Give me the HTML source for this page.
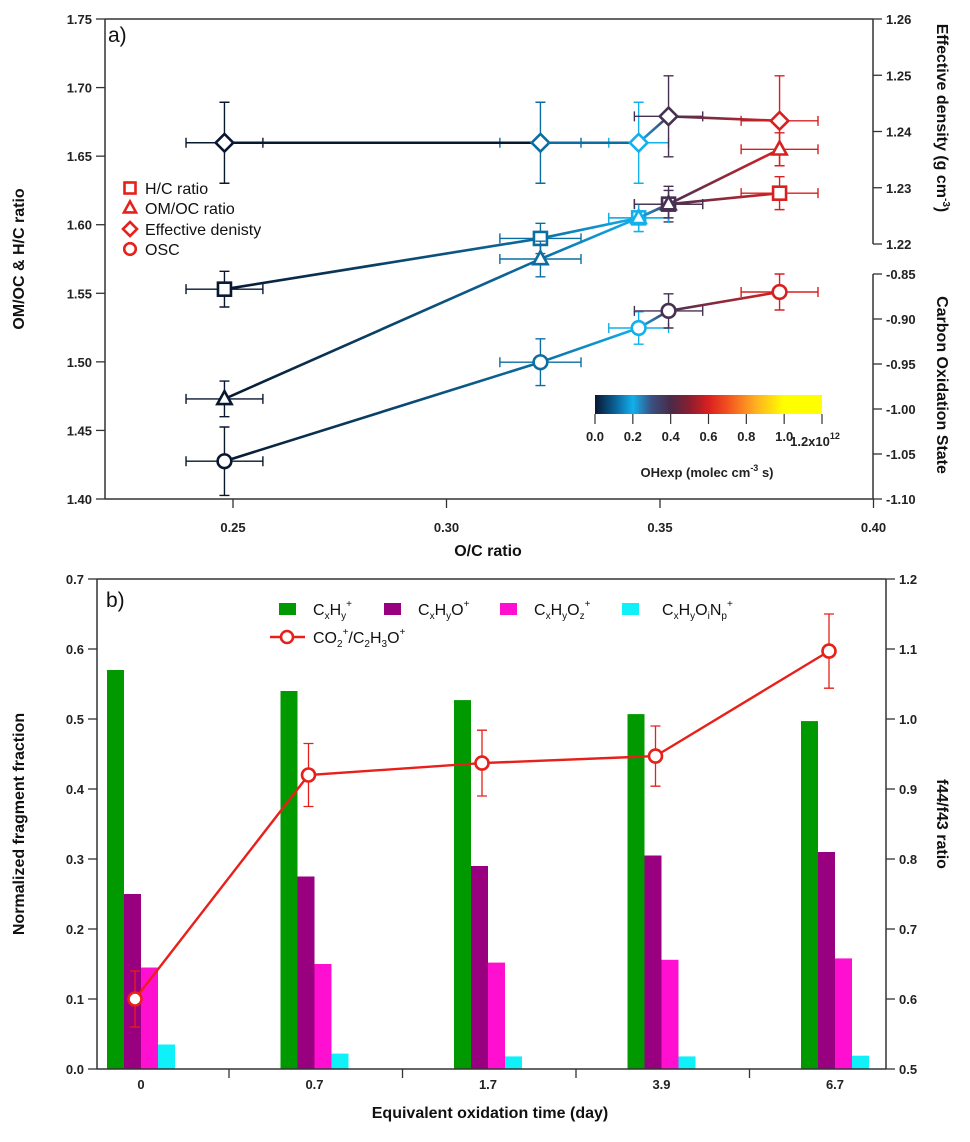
<!DOCTYPE html>
<html><head><meta charset="utf-8">
<style>
html,body{margin:0;padding:0;background:#fff;}
svg{display:block;font-family:"Liberation Sans",Arial,sans-serif;}
.tk{font-size:13px;font-weight:bold;fill:#222;}
.ttl{font-size:16px;font-weight:bold;fill:#111;}
.lg{font-size:16px;fill:#111;}
</style></head>
<body>
<svg id="fig" width="970" height="1142" viewBox="0 0 970 1142" xmlns="http://www.w3.org/2000/svg">
<defs>
<linearGradient id="cbar" x1="0" x2="1" y1="0" y2="0">
<stop offset="0" stop-color="#081830"/><stop offset="0.083" stop-color="#0a5c90"/>
<stop offset="0.167" stop-color="#12b0ec"/><stop offset="0.25" stop-color="#3a4f80"/>
<stop offset="0.333" stop-color="#4a2a48"/><stop offset="0.417" stop-color="#8a1e30"/>
<stop offset="0.5" stop-color="#d82020"/><stop offset="0.583" stop-color="#f25020"/>
<stop offset="0.708" stop-color="#ffb020"/><stop offset="0.833" stop-color="#ffff00"/>
<stop offset="1" stop-color="#ffff00"/>
</linearGradient>
</defs>
<g id="pa"></g>
<g id="pb"></g>
</svg>
<script>
// ---------- Panel a data ----------
const ocRatio = [0.248, 0.322, 0.345, 0.352, 0.378];
const ocErr = [0.009, 0.0095, 0.007, 0.008, 0.009];
const ohExposure = [0.0, 0.12, 0.2, 0.38, 0.6];
const hcRatio = [1.553, 1.590, 1.605, 1.615, 1.623];
const hcErr = [0.013, 0.011, 0.010, 0.013, 0.012];
const omocRatio = [1.473, 1.575, 1.605, 1.615, 1.655];
const omocErr = [0.013, 0.013, 0.010, 0.010, 0.012];
const density = [1.238, 1.238, 1.238, 1.2427, 1.2419];
const densityErr = [0.0072, 0.0072, 0.0072, 0.0072, 0.008];
const osc = [-1.058, -0.948, -0.910, -0.891, -0.870];
const oscErr = [0.038, 0.026, 0.018, 0.019, 0.02];
const xTicksA = [0.25, 0.30, 0.35, 0.40];
const yTicksLeftA = [1.40, 1.45, 1.50, 1.55, 1.60, 1.65, 1.70, 1.75];
const yTicksDensity = [1.22, 1.23, 1.24, 1.25, 1.26];
const yTicksOsc = [-0.85, -0.90, -0.95, -1.00, -1.05, -1.10];
const cbTicks = [0.0, 0.2, 0.4, 0.6, 0.8, 1.0, 1.2];
// ---------- Panel b data ----------
const days = ["0", "0.7", "1.7", "3.9", "6.7"];
const fracCxHy = [0.570, 0.540, 0.527, 0.507, 0.497];
const fracCxHyO = [0.250, 0.275, 0.290, 0.305, 0.310];
const fracCxHyOz = [0.145, 0.150, 0.152, 0.156, 0.158];
const fracCxHyOiNp = [0.035, 0.022, 0.018, 0.018, 0.019];
const f44f43 = [0.600, 0.920, 0.937, 0.947, 1.097];
const f44f43Err = [0.040, 0.045, 0.047, 0.043, 0.053];
const yTicksLeftB = [0.0, 0.1, 0.2, 0.3, 0.4, 0.5, 0.6, 0.7];
const yTicksRightB = [0.5, 0.6, 0.7, 0.8, 0.9, 1.0, 1.1, 1.2];

const NS = "http://www.w3.org/2000/svg";
function mk(parent, tag, attrs, text) {
  const e = document.createElementNS(NS, tag);
  for (const k in attrs) e.setAttribute(k, attrs[k]);
  if (text !== undefined) e.textContent = text;
  parent.appendChild(e);
  return e;
}
const AL = 105, AR = 873, AT = 19, AB = 499;
const xa = v => 233 + (v - 0.25) * 4270;
const ya = v => AB - (v - 1.40) * 1371.4;
const yd = v => 19 + (1.26 - v) * 5625;
const yo = v => 274 + (-0.85 - v) * 900;
const cmStops = [[0,"#081830"],[0.1,"#0a5c90"],[0.2,"#12b0ec"],[0.3,"#3a4f80"],[0.4,"#4a2a48"],[0.5,"#8a1e30"],[0.6,"#d82020"],[0.7,"#f25020"],[0.85,"#ffb020"],[1.0,"#ffff00"],[1.2,"#ffff00"]];
function hex2rgb(h){return [1,3,5].map(i=>parseInt(h.substr(i,2),16));}
function cmap(v){
  for (let i=0;i<cmStops.length-1;i++){
    const [a,ca]=cmStops[i],[b,cb]=cmStops[i+1];
    if (v<=b){const t=(v-a)/(b-a);const A=hex2rgb(ca),B=hex2rgb(cb);
      return "rgb("+A.map((x,j)=>Math.round(x+(B[j]-x)*t)).join(",")+")";}
  }
  return cmStops[cmStops.length-1][1];
}
const pa = document.getElementById('pa');
const defs = document.querySelector('defs');

let e;
e = mk(pa,'line',{x1:AL,y1:AT,x2:AR,y2:AT,stroke:'#333','stroke-width':1.5});
 
e = mk(pa,'line',{x1:AL,y1:AT,x2:AL,y2:AB,stroke:'#333','stroke-width':1.5});
 
e = mk(pa,'line',{x1:AL,y1:AB,x2:AR,y2:AB,stroke:'#333','stroke-width':1.5});
 
e = mk(pa,'line',{x1:AR,y1:AT,x2:AR,y2:yd(1.22),stroke:'#333','stroke-width':1.5});
 
e = mk(pa,'line',{x1:AR,y1:yo(-0.85),x2:AR,y2:AB,stroke:'#333','stroke-width':1.5});
 
yTicksLeftA.forEach(v=>{
  mk(pa,'line',{x1:AL-9,y1:ya(v),x2:AL,y2:ya(v),stroke:'#333','stroke-width':1.3});
  const t = mk(pa,'text',{x:AL-13,y:ya(v)+5,'text-anchor':'end',class:'tk'},v.toFixed(2));
   
});
xTicksA.forEach(v=>{
  mk(pa,'line',{x1:xa(v),y1:AB,x2:xa(v),y2:AB+9,stroke:'#333','stroke-width':1.3});
  const t = mk(pa,'text',{x:xa(v),y:AB+33,'text-anchor':'middle',class:'tk'},v.toFixed(2));
   
});
yTicksDensity.forEach(v=>{
  mk(pa,'line',{x1:AR,y1:yd(v),x2:AR+9,y2:yd(v),stroke:'#333','stroke-width':1.3});
  const t = mk(pa,'text',{x:AR+13,y:yd(v)+5,class:'tk'},v.toFixed(2));
   
});
yTicksOsc.forEach(v=>{
  mk(pa,'line',{x1:AR,y1:yo(v),x2:AR+9,y2:yo(v),stroke:'#333','stroke-width':1.3});
  const t = mk(pa,'text',{x:AR+13,y:yo(v)+5,class:'tk'},v.toFixed(2));
   
});
e = mk(pa,'text',{x:24,y:259,'text-anchor':'middle',class:'ttl',transform:'rotate(-90 24 259)'},'OM/OC & H/C ratio');
 
e = mk(pa,'text',{x:488,y:556,'text-anchor':'middle',class:'ttl','font-size':17},'O/C ratio');
 
e = mk(pa,'text',{x:937,y:118,'text-anchor':'middle',class:'ttl',transform:'rotate(90 937 118)'});
 
e.innerHTML = 'Effective density (g cm<tspan dy="-6" font-size="10">-3</tspan><tspan dy="6">)</tspan>';
e = mk(pa,'text',{x:937,y:385,'text-anchor':'middle',class:'ttl',transform:'rotate(90 937 385)'},'Carbon Oxidation State');
 
e = mk(pa,'text',{x:108,y:42,'font-size':21,fill:'#111'},'a)');
 

function marker(g, shape, x, y, col, s){
  let m;
  if (shape==='sq') m = mk(g,'rect',{x:x-s,y:y-s,width:2*s,height:2*s});
  else if (shape==='tri') m = mk(g,'polygon',{points:`${x},${y-s*1.2} ${x-s*1.1},${y+s*0.8} ${x+s*1.1},${y+s*0.8}`});
  else if (shape==='dia') m = mk(g,'polygon',{points:`${x},${y-s*1.35} ${x+s*1.35},${y} ${x},${y+s*1.35} ${x-s*1.35},${y}`});
  else m = mk(g,'circle',{cx:x,cy:y,r:s*1.05});
  m.setAttribute('fill','#fff'); m.setAttribute('stroke',col); m.setAttribute('stroke-width',2.6);
  return m;
}
let gid = 0;
function series(name, shape, vals, errs, yfn){
  const g = mk(pa,'g',{});
  
  
  const pts = vals.map((v,i)=>[xa(ocRatio[i]), yfn(v), cmap(ohExposure[i])]);
  vals.forEach((v,i)=>{
    const x=pts[i][0], y=pts[i][1], c=pts[i][2];
    const y1=yfn(v-errs[i]), y2=yfn(v+errs[i]);
    const x1=xa(ocRatio[i]-ocErr[i]), x2=xa(ocRatio[i]+ocErr[i]);
    mk(g,'path',{d:`M${x},${y1}V${y2}M${x-5},${y1}H${x+5}M${x-5},${y2}H${x+5}M${x1},${y}H${x2}M${x1},${y-5}V${y+5}M${x2},${y-5}V${y+5}`,stroke:c,'stroke-width':1.4,fill:'none'});
  });
  for (let i=0;i<pts.length-1;i++){
    const id='sg'+(gid++);
    const lg = mk(defs,'linearGradient',{id:id,gradientUnits:'userSpaceOnUse',x1:pts[i][0],y1:pts[i][1],x2:pts[i+1][0],y2:pts[i+1][1]});
    mk(lg,'stop',{offset:0,'stop-color':pts[i][2]});
    mk(lg,'stop',{offset:1,'stop-color':pts[i+1][2]});
    const dy=pts[i+1][1]-pts[i][1];
    const d = `M${pts[i][0]},${pts[i][1]}L${pts[i+1][0]},${pts[i+1][1]}`;
    const ln = mk(g,'path',{d:d,stroke:`url(#${id})`,'stroke-width':2.6,fill:'none'});
    if (Math.abs(dy)<0.5) ln.setAttribute('stroke',pts[i][2]);
  }
  pts.forEach(p=>{
    const m = marker(g, shape, p[0], p[1], p[2], 6.5);
    
    
  });
}
series('density-series','dia',density,densityErr,yd);
series('hc-series','sq',hcRatio,hcErr,ya);
series('omoc-series','tri',omocRatio,omocErr,ya);
series('osc-series','circ',osc,oscErr,yo);

const legA = mk(pa,'g',{});
 
[['sq','H/C ratio',188],['tri','OM/OC ratio',208],['dia','Effective denisty',229],['circ','OSC',249]].forEach(r=>{
  marker(legA, r[0], 130, r[2], '#e8201a', r[0]==='dia'?5.2:5.5);
  const t = mk(legA,'text',{x:145,y:r[2]+6,class:'lg'},r[1]);
   
});

const cb = mk(pa,'g',{});
 
const cbx = v => 595 + v/1.2*227;
mk(cb,'rect',{x:595,y:395,width:227,height:19,fill:'url(#cbar)'});
cbTicks.forEach((v,i)=>{
  mk(cb,'line',{x1:cbx(v),y1:414,x2:cbx(v),y2:424,stroke:'#333','stroke-width':1.2});
  if (i<cbTicks.length-1) {
    const t = mk(cb,'text',{x:cbx(v),y:441,'text-anchor':'middle',class:'tk','font-size':12},v.toFixed(1));
     
  }
});
e = mk(cb,'text',{x:cbx(1.2)-7,y:446,'text-anchor':'middle',class:'tk'});
e.innerHTML = '1.2x10<tspan dy="-7" font-size="9">12</tspan>';
 
e = mk(cb,'text',{x:707,y:477,'text-anchor':'middle',class:'tk','font-size':12});
e.innerHTML = 'OHexp (molec cm<tspan dy="-6" font-size="9">-3</tspan><tspan dy="6"> s)</tspan>';
 

// ---------- Panel b ----------
const pb = document.getElementById('pb');
const BL = 97, BR = 886, BT = 579, BB = 1069;
const yb = v => BB - v*700;
const yr = v => BB - (v-0.5)*700;
const gx = i => 107 + i*173.5;
const BW = 17;
e = mk(pb,'line',{x1:BL,y1:BT,x2:BR,y2:BT,stroke:'#333','stroke-width':1.5});
 
e = mk(pb,'line',{x1:BL,y1:BT,x2:BL,y2:BB,stroke:'#333','stroke-width':1.5});
 
e = mk(pb,'line',{x1:BR,y1:BT,x2:BR,y2:BB,stroke:'#333','stroke-width':1.5});
 
yTicksLeftB.forEach(v=>{
  mk(pb,'line',{x1:BL-9,y1:yb(v),x2:BL,y2:yb(v),stroke:'#333','stroke-width':1.3});
  const t = mk(pb,'text',{x:BL-13,y:yb(v)+5,'text-anchor':'end',class:'tk'},v.toFixed(1));
   
});
yTicksRightB.forEach(v=>{
  mk(pb,'line',{x1:BR,y1:yr(v),x2:BR+9,y2:yr(v),stroke:'#333','stroke-width':1.3});
  const t = mk(pb,'text',{x:BR+13,y:yr(v)+5,class:'tk'},v.toFixed(1));
   
});
const barSets = [[fracCxHy,'#009900','bar-cxhy'],[fracCxHyO,'#990080','bar-cxhyo'],[fracCxHyOz,'#ff10d0','bar-cxhyoz'],[fracCxHyOiNp,'#10f0f8','bar-cxhyoinp']];
days.forEach((d,i)=>{
  barSets.forEach((s,k)=>{
    const r = mk(pb,'rect',{x:gx(i)+k*BW,y:yb(s[0][i]),width:BW,height:yb(0)-yb(s[0][i]),fill:s[1]});
    
    
  });
  const t = mk(pb,'text',{x:gx(i)+34,y:1089,'text-anchor':'middle',class:'tk'},d);
   
  if (i<days.length-1) mk(pb,'line',{x1:gx(i)+122,y1:BB,x2:gx(i)+122,y2:BB+9,stroke:'#333','stroke-width':1.3});
});
e = mk(pb,'line',{x1:BL,y1:BB,x2:BR,y2:BB,stroke:'#333','stroke-width':1.5});
 
const rg = mk(pb,'g',{});
 
const rx = i => gx(i)+28;
mk(rg,'path',{d:f44f43.map((v,i)=>(i?'L':'M')+rx(i)+','+yr(v)).join(''),stroke:'#e8201a','stroke-width':2.4,fill:'none'});
f44f43.forEach((v,i)=>{
  const y1=yr(v-f44f43Err[i]), y2=yr(v+f44f43Err[i]), x=rx(i);
  mk(rg,'path',{d:`M${x},${y1}V${y2}M${x-5},${y1}H${x+5}M${x-5},${y2}H${x+5}`,stroke:'#e8201a','stroke-width':1.3,fill:'none'});
});
f44f43.forEach((v,i)=>{
  const c = mk(rg,'circle',{cx:rx(i),cy:yr(v),r:6.5,fill:'#fff',stroke:'#e8201a','stroke-width':2.6});
   
});
e = mk(pb,'text',{x:24,y:824,'text-anchor':'middle',class:'ttl',transform:'rotate(-90 24 824)'},'Normalized fragment fraction');
 
e = mk(pb,'text',{x:937,y:824,'text-anchor':'middle',class:'ttl',transform:'rotate(90 937 824)'},'f44/f43 ratio');
 
e = mk(pb,'text',{x:490,y:1118,'text-anchor':'middle',class:'ttl','font-size':17},'Equivalent oxidation time (day)');
 
e = mk(pb,'text',{x:106,y:607,'font-size':21,fill:'#111'},'b)');
 
const legB = mk(pb,'g',{});
 
const legItems = [[279,'#009900','C<tspan font-size="10" dy="4">x</tspan><tspan dy="-4">H</tspan><tspan font-size="10" dy="4">y</tspan><tspan font-size="10" dy="-12">+</tspan>'],
 [384,'#990080','C<tspan font-size="10" dy="4">x</tspan><tspan dy="-4">H</tspan><tspan font-size="10" dy="4">y</tspan><tspan dy="-4">O</tspan><tspan font-size="10" dy="-8">+</tspan>'],
 [500,'#ff10d0','C<tspan font-size="10" dy="4">x</tspan><tspan dy="-4">H</tspan><tspan font-size="10" dy="4">y</tspan><tspan dy="-4">O</tspan><tspan font-size="10" dy="4">z</tspan><tspan font-size="10" dy="-12">+</tspan>'],
 [622,'#10f0f8','C<tspan font-size="10" dy="4">x</tspan><tspan dy="-4">H</tspan><tspan font-size="10" dy="4">y</tspan><tspan dy="-4">O</tspan><tspan font-size="10" dy="4">i</tspan><tspan dy="-4">N</tspan><tspan font-size="10" dy="4">p</tspan><tspan font-size="10" dy="-12">+</tspan>']];
legItems.forEach((it,k)=>{
  mk(legB,'rect',{x:it[0],y:603,width:17,height:12,fill:it[1]});
  const t = mk(legB,'text',{x:it[0]+(k===3?40:34),y:615,class:'lg'});
  t.innerHTML = it[2];
   
});
mk(legB,'line',{x1:270,y1:637,x2:305,y2:637,stroke:'#e8201a','stroke-width':2.4});
mk(legB,'circle',{cx:287,cy:637,r:6,fill:'#fff',stroke:'#e8201a','stroke-width':2.6});
e = mk(legB,'text',{x:313,y:643,class:'lg'});
e.innerHTML = 'CO<tspan font-size="10" dy="4">2</tspan><tspan font-size="10" dy="-12">+</tspan><tspan dy="8">/C</tspan><tspan font-size="10" dy="4">2</tspan><tspan dy="-4">H</tspan><tspan font-size="10" dy="4">3</tspan><tspan dy="-4">O</tspan><tspan font-size="10" dy="-8">+</tspan>';
 
</script>
</body></html>
